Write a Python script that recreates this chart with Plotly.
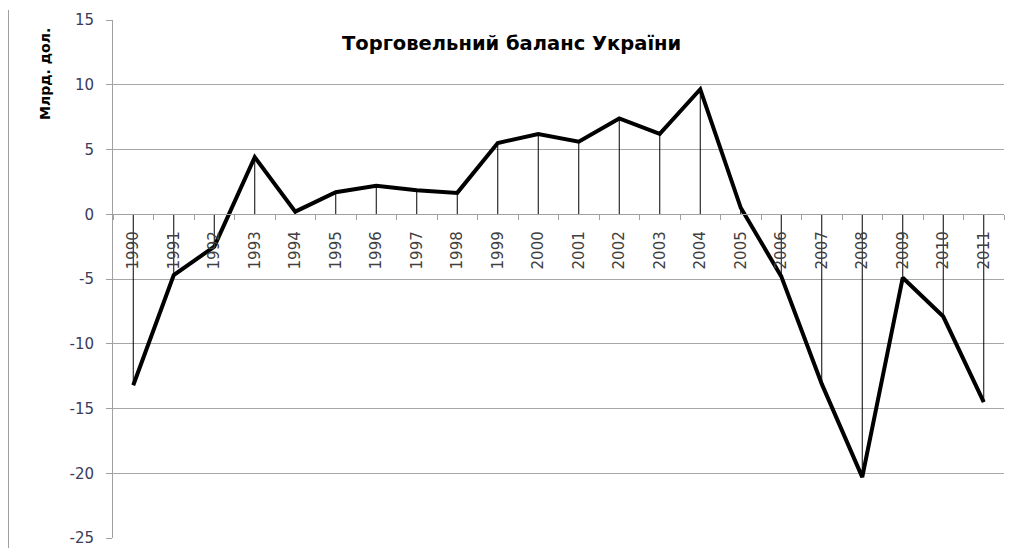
import plotly.graph_objects as go

years = [str(y) for y in range(1990, 2012)]
balance = [-13.2, -4.7, -2.5, 4.4, 0.2, 1.7, 2.2, 1.85, 1.65, 5.5, 6.2,
           5.6, 7.4, 6.2, 9.65, 0.5, -4.8, -13.1, -20.3, -4.9, -7.9, -14.5]
y_ticks = [15, 10, 5, 0, -5, -10, -15, -20, -25]
title_text = "Торговельний баланс України"
y_title = "Млрд. дол."

up = [max(-v, 0) for v in balance]
down = [max(v, 0) for v in balance]

OFF = 8  # page body margin
W, H = 1013 - OFF, 548 - OFF
L, T = 113 - OFF, 20 - OFF
R = W - (1004 - OFF)
B = H - (538 - OFF)
pw, ph = W - L - R, H - T - B


def px(x):
    return (x - OFF - L) / pw


def py(y):
    return (H - B - (y - OFF)) / ph


fig = go.Figure()
fig.add_trace(go.Scatter(
    x=years, y=balance, mode="lines",
    line=dict(color="black", width=4),
    error_y=dict(type="data", symmetric=False, array=up, arrayminus=down,
                 width=0, thickness=1, color="black"),
    hoverinfo="x+y", showlegend=False,
))

fig.update_layout(
    width=W, height=H,
    margin=dict(l=L, r=R, t=T, b=B, autoexpand=False),
    paper_bgcolor="white", plot_bgcolor="white",
    font=dict(family="DejaVu Sans", size=15, color="#404040"),
    xaxis=dict(
        type="category", anchor="free", position=0.625, automargin=False,
        range=[-0.5, len(years) - 0.5],
        showline=True, linecolor="#a0a0a0", linewidth=1,
        ticks="outside", tickson="boundaries", ticklen=5, tickcolor="#a0a0a0",
        tickangle=-90, showgrid=False, zeroline=False,
        tickfont=dict(family="DejaVu Sans", size=15, color="#404040"),
        ticklabelstandoff=10,
    ),
    yaxis=dict(
        range=[-25, 15], tickvals=y_ticks, ticktext=[str(v) for v in y_ticks],
        automargin=False, showgrid=True, gridcolor="#a6a6a6",
        zeroline=False, showline=True, linecolor="#a0a0a0", linewidth=1,
        ticks="outside", ticklen=6, tickcolor="#a0a0a0",
        tickfont=dict(family="DejaVu Sans", size=15, color="#3b3b5c"),
        ticklabelstandoff=9,
    ),
    annotations=[
        dict(text="<b>" + title_text + "</b>", xref="paper", yref="paper",
             x=px(511), y=py(43), showarrow=False,
             xanchor="center", yanchor="middle",
             font=dict(family="DejaVu Sans", size=19.5, color="black")),
        dict(text="<b>" + y_title + "</b>", xref="paper", yref="paper",
             x=px(45), y=py(74), showarrow=False,
             textangle=-90, xanchor="center", yanchor="middle",
             font=dict(family="DejaVu Sans", size=14, color="black")),
    ],
    shapes=[dict(type="line", xref="paper", yref="paper",
                 x0=px(8.5), x1=px(8.5), y0=py(548), y1=py(10),
                 line=dict(color="#a0a0a0", width=1))],
)

fig.write_html("out.html")
